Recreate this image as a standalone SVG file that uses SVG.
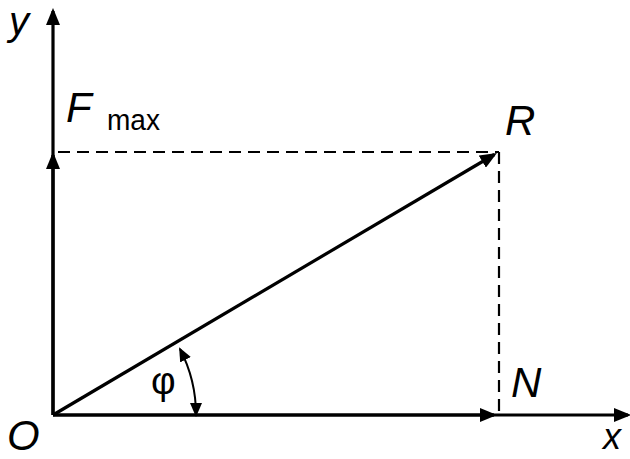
<svg xmlns="http://www.w3.org/2000/svg" width="630" height="459" viewBox="0 0 630 459">
  <style>
    .solid { stroke: #000; stroke-width: 3.2; fill: none; }
    .dash { stroke: #000; stroke-width: 2.2; fill: none; stroke-dasharray: 12 7; }
    .thin { stroke: #000; stroke-width: 2; fill: none; }
    .lbl { font-family: "Liberation Sans", Arial, sans-serif; font-style: italic; fill: #000; }
    .sub { font-family: "Liberation Sans", Arial, sans-serif; fill: #000; }
  </style>
  <defs>
    <marker id="arr" markerUnits="userSpaceOnUse" viewBox="0 0 17 14" markerWidth="17" markerHeight="14" refX="14" refY="7" orient="auto">
      <path d="M0,0 L17,7 L0,14 z" fill="#000"/>
    </marker>
    <marker id="arrS" markerUnits="userSpaceOnUse" viewBox="0 0 14 12" markerWidth="14" markerHeight="12" refX="12" refY="6" orient="auto-start-reverse">
      <path d="M0,0 L14,6 L0,12 z" fill="#000"/>
    </marker>
  </defs>
  <rect width="630" height="459" fill="#fff"/>

  <g id="connectors">
    <path id="dash-h" class="dash" d="M58,152 H499"/>
    <path id="dash-v" class="dash" d="M499,152 V415"/>
    <path id="axis-y" class="solid" d="M53,415 V11" marker-end="url(#arr)"/>
    <path id="axis-x" class="solid" d="M53,415 H628" marker-end="url(#arr)"/>
    <path id="vec-F" class="solid" d="M53,415 V155" marker-end="url(#arr)"/>
    <path id="vec-N" class="solid" d="M53,415 H494" marker-end="url(#arr)"/>
    <path id="vec-R" class="solid" d="M53,415 L494.4,154.5" marker-end="url(#arr)"/>
    <path id="angle-phi" class="thin" d="M180,349 A143,143 0 0 1 196,415" marker-start="url(#arrS)" marker-end="url(#arrS)"/>
  </g>

  <g id="label-y"><text class="lbl" x="9" y="35" font-size="40">y</text></g>
  <g id="label-Fmax">
    <text class="lbl" x="66" y="122" font-size="42">F</text>
    <text class="sub" x="107" y="130" font-size="30" textLength="53" lengthAdjust="spacingAndGlyphs">max</text>
  </g>
  <g id="label-R"><text class="lbl" x="505" y="135" font-size="42">R</text></g>
  <g id="label-N"><text class="lbl" x="511" y="397" font-size="42">N</text></g>
  <g id="label-O"><text class="lbl" x="7" y="450" font-size="42">O</text></g>
  <g id="label-phi"><text class="sub" x="151" y="394" font-size="38">φ</text></g>
  <g id="label-x"><text class="lbl" x="603" y="449" font-size="36">x</text></g>
</svg>
